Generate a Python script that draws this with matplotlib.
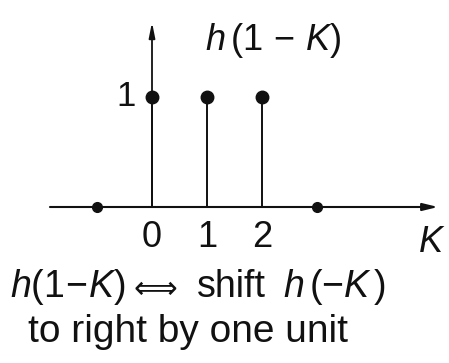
"""
Reflected and shifted unit step sequence h(1-K)
"""

import matplotlib
matplotlib.use("Agg")
import matplotlib.pyplot as plt

# Sequence values
k_values = [-1, 0, 1, 2, 3]
h_values = [0, 1, 1, 1, 0]
tick_labels = ["0", "1", "2"]
tick_positions = [0, 1, 2]

plt.rcParams['mathtext.fontset'] = 'custom'
plt.rcParams['mathtext.rm'] = 'Liberation Sans'
plt.rcParams['mathtext.it'] = 'Liberation Sans:italic'
plt.rcParams['mathtext.fallback'] = 'stix'
plt.rcParams['font.family'] = ['Liberation Sans', 'DejaVu Sans']

W, H = 449, 363
fig = plt.figure(figsize=(W / 100, H / 100), dpi=100)
ax = fig.add_axes([0, 0, 1, 1])
ax.set_xlim(-152 / 55, (W - 152) / 55)
ax.set_ylim(-(H - 207) / 110, 207 / 110)
ax.axis('off')

ink = '#111111'

# Axes with arrows
ax.annotate('', xy=(5.2, 0), xytext=(-1.855, 0),
            arrowprops=dict(arrowstyle='-|>,head_length=0.9,head_width=0.22',
                            color=ink, lw=1.5, shrinkA=0, shrinkB=0))
ax.annotate('', xy=(0, 1.68), xytext=(0, 0),
            arrowprops=dict(arrowstyle='-|>,head_length=0.9,head_width=0.18',
                            color=ink, lw=1.3, shrinkA=0, shrinkB=0))

# Stems and dots
for k, h in zip(k_values, h_values):
    if h != 0:
        ax.vlines(k, 0, h, color=ink, lw=1.4)
        ax.plot(k, h, 'o', color=ink, markersize=9)
    else:
        ax.plot(k, h, 'o', color=ink, markersize=7)

for pos, lab in zip(tick_positions, tick_labels):
    ax.text(pos, -0.28, lab, ha='center', va='center', fontsize=26, color=ink)

ax.text(-0.3, 1.0, '1', ha='right', va='center', fontsize=25, color=ink)


def fx(px):
    return px / W


def fy(py):
    return 1 - py / H


fig.text(fx(205), fy(40), r'$h\,(1\,-\,K)$', ha='left', va='center',
         fontsize=26, color=ink)
fig.text(fx(432), fy(243), r'$K$', ha='center', va='center',
         fontsize=26, color=ink)

# Caption
fig.text(fx(10), fy(297), r'$h(1\!-\!K)$', ha='left', va='baseline',
         fontsize=27, color=ink)
fig.text(fx(155), fy(289), '\u27fa', ha='center', va='center',
         fontsize=22, color=ink, family='DejaVu Sans')
fig.text(fx(197), fy(297), 'shift', ha='left', va='baseline',
         fontsize=27, color=ink)
fig.text(fx(283), fy(297), r'$h\,(-K\,)$', ha='left', va='baseline',
         fontsize=27, color=ink)
fig.text(fx(28), fy(342), 'to right by one unit', ha='left', va='baseline',
         fontsize=28, color=ink)

fig.savefig('out.png', dpi=100)
